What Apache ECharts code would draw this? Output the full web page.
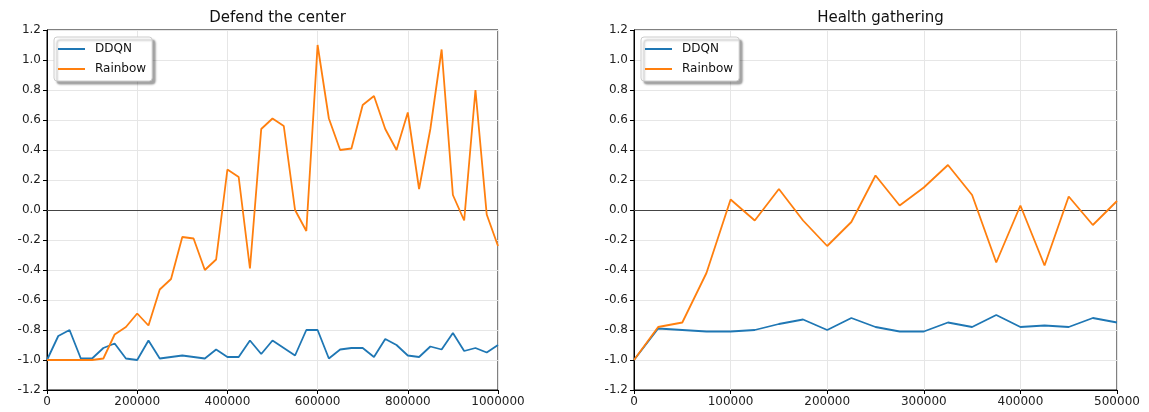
<!DOCTYPE html>
<html>
<head>
<meta charset="utf-8">
<script src="https://cdn.jsdelivr.net/npm/echarts@6/dist/echarts.min.js"></script>
<style>
  html, body { margin: 0; padding: 0; background: #fff; }
  #chart { width: 1149px; height: 412px; }
</style>
</head>
<body>
<div id="chart"></div>
<script>
// training steps (one point every 25000 steps)
const defendSteps = Array.from({ length: 41 }, (_, i) => i * 25000);
const healthSteps = Array.from({ length: 21 }, (_, i) => i * 25000);

const defendDDQN = [
  -1.0, -0.84, -0.80, -0.99, -0.99, -0.92, -0.89, -0.99, -1.0, -0.87,
  -0.99, -0.98, -0.97, -0.98, -0.99, -0.93, -0.98, -0.98, -0.87, -0.96,
  -0.87, -0.92, -0.97, -0.80, -0.80, -0.99, -0.93, -0.92, -0.92, -0.98,
  -0.86, -0.90, -0.97, -0.98, -0.91, -0.93, -0.82, -0.94, -0.92, -0.95,
  -0.90
];
const defendRainbow = [
  -1.0, -1.0, -1.0, -1.0, -1.0, -0.99, -0.83, -0.78, -0.69, -0.77,
  -0.53, -0.46, -0.18, -0.19, -0.40, -0.33, 0.27, 0.22, -0.39, 0.54,
  0.61, 0.56, 0.0, -0.14, 1.10, 0.61, 0.40, 0.41, 0.70, 0.76,
  0.54, 0.40, 0.65, 0.14, 0.54, 1.07, 0.10, -0.07, 0.80, -0.03,
  -0.24
];
const healthDDQN = [
  -1.0, -0.79, -0.80, -0.81, -0.81, -0.80, -0.76, -0.73, -0.80, -0.72,
  -0.78, -0.81, -0.81, -0.75, -0.78, -0.70, -0.78, -0.77, -0.78, -0.72,
  -0.75
];
const healthRainbow = [
  -1.0, -0.78, -0.75, -0.42, 0.07, -0.07, 0.14, -0.07, -0.24, -0.08,
  0.23, 0.03, 0.15, 0.30, 0.10, -0.35, 0.03, -0.37, 0.09, -0.10,
  0.06
];

const titles = ["Defend the center", "Health gathering"];
const xMax = [1000000, 500000];
const xInterval = [200000, 100000];

const pair = (xs, ys) => xs.map((x, i) => [x, ys[i]]);

const grids = [
  { left: 47, top: 30, width: 451, height: 360 },
  { left: 634, top: 30, width: 483, height: 360 },
];

const axisFont = { color: "#222", fontSize: 12, fontFamily: "DejaVu Sans" };

const chart = echarts.init(document.getElementById("chart"));

const option = {
  animation: false,
  backgroundColor: "#fff",
  title: grids.map((g, i) => ({
    text: titles[i],
    left: g.left + g.width / 2,
    textAlign: "center",
    top: 6,
    textStyle: { fontSize: 15, fontWeight: "normal", color: "#111", fontFamily: "DejaVu Sans" },
  })),
  legend: grids.map((g) => ({
    data: ["DDQN", "Rainbow"],
    orient: "vertical",
    left: g.left + 7,
    top: 37,
    icon: "rect",
    itemWidth: 27,
    itemHeight: 2,
    itemGap: 8,
    padding: [6, 6, 6, 4],
    backgroundColor: "#fff",
    borderColor: "#ccc",
    borderWidth: 1,
    borderRadius: 3,
    shadowColor: "rgba(0,0,0,0.35)",
    shadowBlur: 2,
    shadowOffsetX: 3,
    shadowOffsetY: 3,
    textStyle: { fontSize: 12, color: "#111", fontFamily: "DejaVu Sans", padding: [0, 0, 0, 5] },
  })),
  grid: grids.map((g) => ({
    ...g,
    show: true,
    borderColor: "#000",
    borderWidth: 1,
    backgroundColor: "transparent",
  })),
  xAxis: grids.map((g, i) => ({
    type: "value",
    gridIndex: i,
    min: 0,
    max: xMax[i],
    interval: xInterval[i],
    axisLine: { show: true, onZero: false, lineStyle: { color: "#000" } },
    axisTick: { show: true, length: 4, lineStyle: { color: "#000" } },
    axisLabel: { ...axisFont, margin: 6, formatter: (v) => String(v) },
    splitLine: { show: true, lineStyle: { color: "#e6e6e6" } },
  })),
  yAxis: grids.map((g, i) => ({
    type: "value",
    gridIndex: i,
    min: -1.2,
    max: 1.2,
    interval: 0.2,
    axisLine: { show: true, lineStyle: { color: "#000" } },
    axisTick: { show: true, length: 4, lineStyle: { color: "#000" } },
    axisLabel: { ...axisFont, margin: 6, formatter: (v) => v.toFixed(1) },
    splitLine: { show: true, lineStyle: { color: "#e6e6e6" } },
  })),
  series: [
    [defendSteps, defendDDQN, defendRainbow],
    [healthSteps, healthDDQN, healthRainbow],
  ].flatMap(([xs, ddqn, rainbow], i) => [
    {
      name: "DDQN",
      type: "line",
      xAxisIndex: i,
      yAxisIndex: i,
      data: pair(xs, ddqn),
      symbol: "none",
      color: "#1f77b4",
      lineStyle: { width: 1.8, color: "#1f77b4" },
      z: 3,
    },
    {
      name: "Rainbow",
      type: "line",
      xAxisIndex: i,
      yAxisIndex: i,
      data: pair(xs, rainbow),
      symbol: "none",
      color: "#ff7f0e",
      lineStyle: { width: 1.8, color: "#ff7f0e" },
      z: 4,
      markLine: {
        silent: true,
        symbol: "none",
        label: { show: false },
        lineStyle: { color: "#444", width: 1.2, type: "solid" },
        data: [{ yAxis: 0 }],
        z: 2,
      },
    },
  ]),
};

chart.setOption(option);
</script>
</body>
</html>
